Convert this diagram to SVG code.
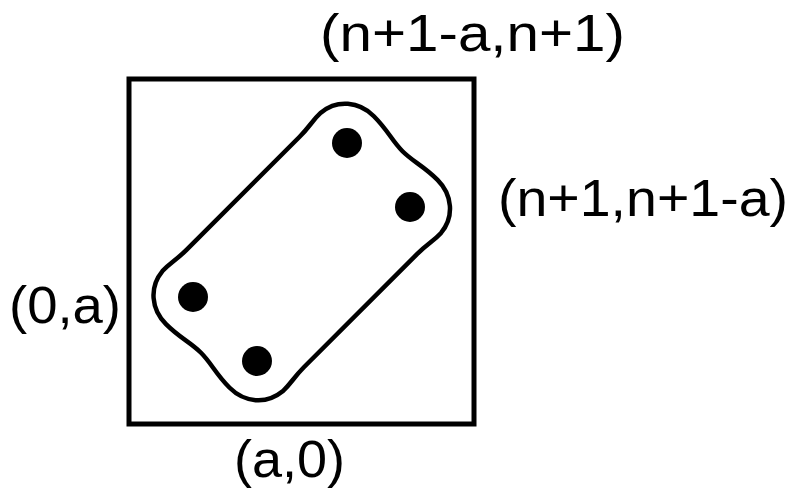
<svg xmlns="http://www.w3.org/2000/svg" width="797" height="491" viewBox="0 0 797 491">
  <style>
    .lbl { font-family: "Liberation Sans", Arial, sans-serif; font-size: 52px; fill: #000; }
    .frame { fill: none; stroke: #000; stroke-width: 5; }
    .blob { fill: none; stroke: #000; stroke-width: 4.5; }
    .dot { fill: #000; }
  </style>
  <rect width="797" height="491" fill="#fff"/>
  <g id="square">
    <rect class="frame" x="129" y="79" width="345" height="345"/>
  </g>
  <g id="region">
    <path class="blob" transform="translate(301.75,252) rotate(-45)" d="M -80,-83 L 80,-83 C 95,-83 100,-85.5 112,-85 C 133,-83 147,-66 147,-45 C 147,-25 142.5,-15 142.5,0 S 147,25 147,45 C 147,66 133,83 112,85 C 100,85.5 95,83 80,83 L -80,83 C -95,83 -100,85.5 -112,85 C -133,83 -147,66 -147,45 C -147,25 -142.5,15 -142.5,0 S -147,-25 -147,-45 C -147,-66 -133,-83 -112,-85 C -100,-85.5 -95,-83 -80,-83 Z"/>
  </g>
  <g id="points">
    <circle class="dot" cx="347" cy="143" r="15"/>
    <circle class="dot" cx="410" cy="207" r="15"/>
    <circle class="dot" cx="193" cy="297" r="15"/>
    <circle class="dot" cx="257" cy="361" r="15"/>
  </g>
  <g id="labels">
    <text class="lbl" x="320" y="51" textLength="305" lengthAdjust="spacingAndGlyphs">(n+1-a,n+1)</text>
    <text class="lbl" x="498" y="216" textLength="290" lengthAdjust="spacingAndGlyphs">(n+1,n+1-a)</text>
    <text class="lbl" x="9" y="323" textLength="112" lengthAdjust="spacingAndGlyphs">(0,a)</text>
    <text class="lbl" x="234" y="477" textLength="111" lengthAdjust="spacingAndGlyphs">(a,0)</text>
  </g>
</svg>
